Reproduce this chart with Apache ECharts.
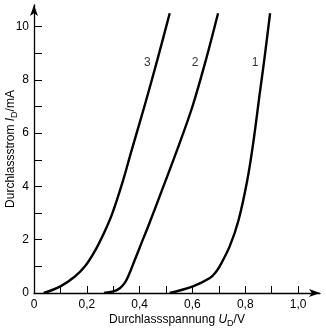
<!DOCTYPE html>
<html>
<head>
<meta charset="utf-8">
<script src="https://cdn.jsdelivr.net/npm/echarts@6/dist/echarts.min.js"></script>
<style>
  html, body { margin: 0; padding: 0; background: #fff; }
  #main { width: 326px; height: 330px; }
</style>
</head>
<body>
<div id="main"></div>
<script>
// Kennlinien [U_D in V, I_D in mA]
const curve3 = [[0.037, 0], [0.1, 0.25], [0.155, 0.62], [0.193, 1.0], [0.232, 1.6], [0.265, 2.25],
  [0.297, 3.0], [0.338, 4.25], [0.368, 5.3], [0.418, 7.0], [0.467, 8.75], [0.514, 10.5]];
const curve2 = [[0.265, 0], [0.3, 0.06], [0.325, 0.18], [0.345, 0.4], [0.36, 0.7], [0.38, 1.2],
  [0.402, 1.75], [0.437, 2.62], [0.49, 4.0], [0.542, 5.37], [0.6, 7.0], [0.651, 8.75], [0.697, 10.5]];
const curve1 = [[0.514, 0], [0.602, 0.25], [0.666, 0.56], [0.688, 0.78], [0.703, 1.0], [0.741, 1.75],
  [0.775, 2.75], [0.808, 4.25], [0.83, 5.62], [0.855, 7.5], [0.872, 8.75], [0.894, 10.5]];
const curveLabels = [['3', 0.429, 8.65], ['2', 0.61, 8.65], ['1', 0.837, 8.65]];

const xTicks = [0.1, 0.2, 0.3, 0.4, 0.5, 0.6, 0.7, 0.8, 0.9, 1.0];
const xLabels = [0, 0.2, 0.4, 0.6, 0.8, 1.0];
const yTicks = [1, 2, 3, 4, 5, 6, 7, 8, 9, 10];
const yLabels = [0, 2, 4, 6, 8, 10];

const font = '"Liberation Sans", Arial, sans-serif';

function curveSeries (data) {
  return {
    type: 'line',
    data: data,
    smooth: 0.35,
    showSymbol: false,
    silent: true,
    lineStyle: { color: '#000', width: 2.4 }
  };
}

let option = {
  backgroundColor: '#fff',
  animation: false,
  grid: { left: 34, right: 6, top: 5, bottom: 37, outerBoundsMode: 'none' },
  xAxis: {
    type: 'value',
    min: 0,
    max: 1.083,
    name: '{n|Durchlassspannung }{i|U}{s|D}{n|/V}',
    nameLocation: 'middle',
    nameGap: 19,
    nameMoveOverlap: false,
    nameTextStyle: {
      rich: {
        n: { fontFamily: font, fontSize: 12, color: '#000' },
        i: { fontFamily: font, fontSize: 12, fontStyle: 'italic', color: '#000' },
        s: { fontFamily: font, fontSize: 9, color: '#000', padding: [7, 0, 0, 0] }
      }
    },
    splitLine: { show: false },
    axisLine: {
      onZero: false,
      symbol: ['none', 'arrow'],
      symbolSize: [6, 11],
      lineStyle: { color: '#000', width: 1.3 }
    },
    axisTick: {
      inside: true,
      length: 7,
      customValues: xTicks,
      lineStyle: { color: '#000', width: 1 }
    },
    axisLabel: {
      customValues: xLabels,
      margin: 6,
      fontFamily: font,
      fontSize: 12,
      color: '#000',
      formatter: function (v) { return v === 0 ? '0' : v.toFixed(1).replace('.', ','); }
    }
  },
  yAxis: {
    type: 'value',
    min: 0,
    max: 10.81,
    name: '{n|Durchlassstrom }{i|I}{s|D}{n|/mA}',
    nameLocation: 'middle',
    nameRotate: 90,
    nameGap: 15,
    nameMoveOverlap: false,
    nameTextStyle: {
      rich: {
        n: { fontFamily: font, fontSize: 12, color: '#000' },
        i: { fontFamily: font, fontSize: 12, fontStyle: 'italic', color: '#000' },
        s: { fontFamily: font, fontSize: 9, color: '#000', padding: [7, 0, 0, 0] }
      }
    },
    splitLine: { show: false },
    axisLine: {
      onZero: false,
      symbol: ['none', 'arrow'],
      symbolSize: [6, 11],
      lineStyle: { color: '#000', width: 1.3 }
    },
    axisTick: {
      inside: true,
      length: 8,
      customValues: yTicks,
      lineStyle: { color: '#000', width: 1 }
    },
    axisLabel: {
      customValues: yLabels,
      margin: 5,
      fontFamily: font,
      fontSize: 12,
      color: '#000'
    }
  },
  series: [
    curveSeries(curve1),
    curveSeries(curve2),
    curveSeries(curve3),
    {
      type: 'scatter',
      symbolSize: 0,
      silent: true,
      data: curveLabels.map(d => ({ value: [d[1], d[2]], name: d[0] })),
      label: {
        show: true,
        position: 'inside',
        formatter: '{b}',
        fontFamily: font,
        fontSize: 12,
        color: '#000'
      }
    }
  ]
};

let myChart = echarts.init(document.getElementById('main'), null, { renderer: 'canvas' });
myChart.setOption(option);
</script>
</body>
</html>
